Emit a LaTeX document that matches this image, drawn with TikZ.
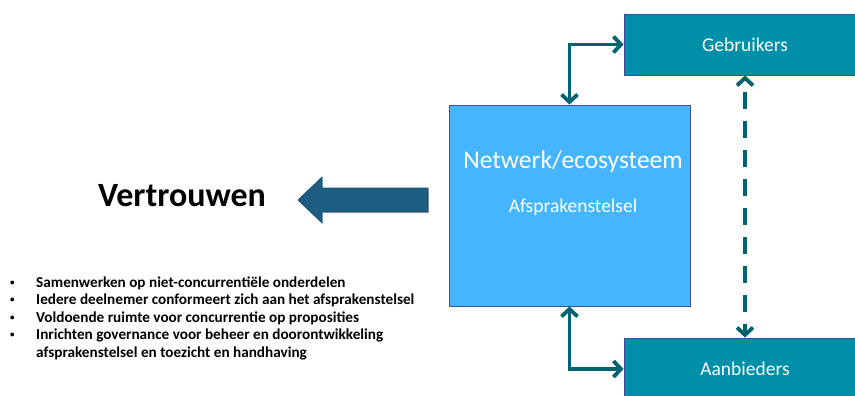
\documentclass[tikz,border=0pt]{standalone}
\usepackage{fontspec}
\setmainfont{Carlito}
\usetikzlibrary{arrows.meta,shadows}
\definecolor{bigblue}{HTML}{45B6FE}
\definecolor{boxteal}{HTML}{008FA8}
\definecolor{boxedge}{HTML}{3B4F9A}
\definecolor{conncol}{HTML}{00636F}
\definecolor{arrowblue}{HTML}{1F5C82}
\newcommand{\smallbul}{\makebox[26pt][l]{\raisebox{0.25ex}{\fontsize{9}{9}\selectfont •}}}
\tikzset{
  softshadow/.style={drop shadow={shadow xshift=1.2pt,shadow yshift=-1.2pt,opacity=0.35,fill=black!60}},
  netbox/.style={draw=boxedge,line width=0.8pt,fill=bigblue,inner sep=0pt,softshadow},
  actorbox/.style={draw=boxedge,line width=0.8pt,fill=boxteal,inner sep=0pt,text=white,softshadow,
    font=\fontsize{19.5}{23}\selectfont},
  conn/.style={draw=conncol,line width=3.8pt,{Straight Barb[length=7.5pt,width=16pt]}-{Straight Barb[length=7.5pt,width=16pt]}},
  dashconn/.style={conn,dash pattern=on 17pt off 12pt,dash phase=17pt},
  bullettext/.style={anchor=base west,inner sep=0pt,font=\bfseries\fontsize{15.2}{18}\selectfont}
}
\begin{document}
\begin{tikzpicture}[x=1pt,y=-1pt]
\clip (0,0) rectangle (855,396);
\fill[white] (0,0) rectangle (855,396);
% main box
\node[netbox,minimum width=241pt,minimum height=201pt] (net) at (569.5,205.5) {};
\node[text=white,font=\fontsize{25.5}{30}\selectfont] (nettitle) at (573,162) {Netwerk/ecosysteem};
\node[text=white,font=\fontsize{19.5}{23}\selectfont] (netsub) at (573,207) {Afsprakenstelsel};
% actor boxes
\node[actorbox,minimum width=242pt,minimum height=61pt] (geb) at (745,44.5) {Gebruikers};
\node[actorbox,minimum width=242pt,minimum height=62pt] (aan) at (745,369) {Aanbieders};
% connectors
\draw[conn] (net.north) |- (geb.west);
\draw[conn] (net.south) |- (aan.west);
\draw[dashconn] (geb.south) -- (aan.north);
% big arrow
\draw[fill=arrowblue,draw=arrowblue!80!black,line width=0.6pt,softshadow]
  (428,188) -- (322,188) -- (322,177) -- (298,200) -- (322,223) -- (322,212) -- (428,212) -- cycle;
\node[font=\bfseries\fontsize{34}{40}\selectfont] (trust) at (182,196) {Vertrouwen};
% bullet list
\node[bullettext] (b1) at (10,287) {\smallbul Samenwerken op niet-concurrentiële onderdelen};
\node[bullettext] (b2) at (10,304.5) {\smallbul Iedere deelnemer conformeert zich aan het afsprakenstelsel};
\node[bullettext] (b3) at (10,322) {\smallbul Voldoende ruimte voor concurrentie op proposities};
\node[bullettext] (b4) at (10,339.5) {\smallbul Inrichten governance voor beheer en doorontwikkeling};
\node[bullettext] (b5) at (36,357) {afsprakenstelsel en toezicht en handhaving};
\end{tikzpicture}
\end{document}
